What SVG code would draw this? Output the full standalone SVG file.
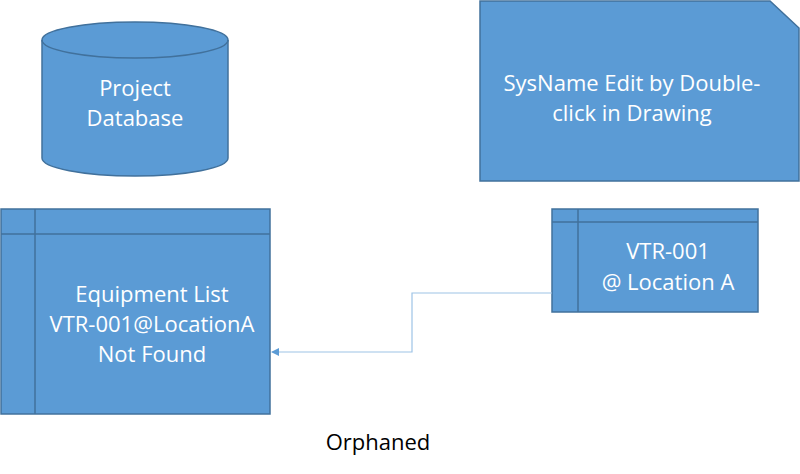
<svg xmlns="http://www.w3.org/2000/svg" width="800" height="474" viewBox="0 0 800 474">
<style>
.s{fill:#5b9bd5;stroke:#41719c;stroke-width:1.5}
.l{fill:none;stroke:#41719c;stroke-width:1.5}
.t{font-family:"Open Sans","Liberation Sans",sans-serif;font-size:22px;fill:#fff;text-anchor:middle}
</style>
<defs><marker id="a" markerWidth="8" markerHeight="8" refX="7" refY="4" orient="auto" markerUnits="userSpaceOnUse"><path d="M0,0L8,4L0,8z" fill="#5b9bd5"/></marker></defs>
<rect width="800" height="474" fill="#fff"/>
<g id="db">
<path class="s" d="M42,40 V158 A93,18 0 0 0 228,158 V40 A93,18 0 0 0 42,40 Z"/>
<path class="l" d="M42,40 A93,18 0 0 0 228,40"/>
<text class="t" x="135" y="96">Project</text><text class="t" x="135" y="126">Database</text>
</g>
<g id="card">
<path class="s" d="M480,1 H770 L799,28 V181 H480 Z"/>
<text class="t" x="632" y="91">SysName Edit by Double-</text><text class="t" x="632" y="121">click in Drawing</text>
</g>
<g id="equip">
<rect class="s" x="1" y="209" width="269" height="205"/>
<path class="l" d="M1,234 H270 M35,209 V414"/>
<text class="t" x="152" y="302">Equipment List</text><text class="t" x="152" y="332">VTR-001@LocationA</text><text class="t" x="152" y="362">Not Found</text>
</g>
<g id="vtr">
<rect class="s" x="552" y="209" width="206" height="103"/>
<path class="l" d="M552,222 H758 M578,209 V312"/>
<text class="t" x="668" y="259">VTR-001</text><text class="t" x="668" y="290">@ Location A</text>
</g>
<g id="connectors">
<path d="M552,293 H412 V352 H272" fill="none" stroke="#9dc3e6" stroke-width="1.2" marker-end="url(#a)"/>
</g>
<text x="378" y="450" font-family="Open Sans,Liberation Sans,sans-serif" font-size="22" text-anchor="middle" fill="#000">Orphaned</text>
</svg>
